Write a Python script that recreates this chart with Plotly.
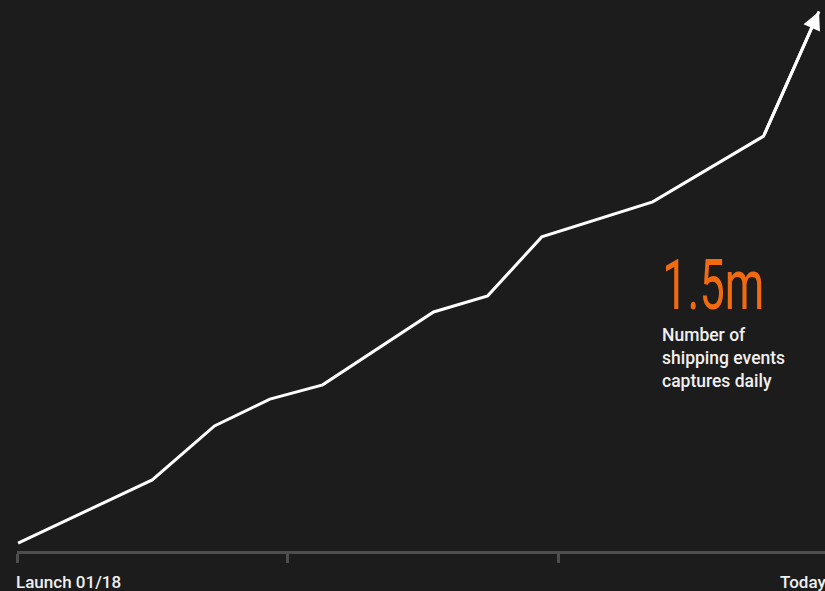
import plotly.graph_objects as go

# Data (x: axis tick units from launch to today, y: millions of shipping events captured daily)
x_vals = [0.004, 0.50, 0.73, 0.935, 1.13, 1.54, 1.74, 1.94, 2.35, 2.76, 2.965]
y_vals = [0.022, 0.199, 0.350, 0.425, 0.465, 0.669, 0.714, 0.879, 0.977, 1.161, 1.51]
tick_vals = [0, 1, 2, 3]
start_label = "Launch 01/18"
end_label = "Today"
headline = "1.5m"
caption = "Number of<br>shipping events<br>captures daily"

BG = "#1c1c1c"
AXIS = "#4d4d4d"
ORANGE = "#f26a10"

fig = go.Figure()
fig.add_trace(go.Scatter(
    x=x_vals, y=y_vals, mode="lines",
    line=dict(color="white", width=3),
    cliponaxis=False, hoverinfo="skip", showlegend=False,
))

fig.update_layout(
    width=825, height=591,
    margin=dict(l=17, r=0, t=0, b=40),
    paper_bgcolor=BG, plot_bgcolor=BG,
    xaxis=dict(range=[0, 808 / 270.5], showgrid=False, zeroline=False,
               showline=True, linecolor=AXIS, linewidth=3,
               tickvals=tick_vals, ticks="outside", ticklen=9, tickwidth=3,
               tickcolor=AXIS, showticklabels=False, fixedrange=True),
    yaxis=dict(range=[0, 1.5 * 551 / 536], visible=False, fixedrange=True),
    font=dict(family="Roboto, sans-serif", color="#f0f0f0"),
)

# arrow head at the last point, pointing along the final segment
fig.add_annotation(x=x_vals[-1], y=y_vals[-1], ax=x_vals[-2], ay=y_vals[-2],
                   xref="x", yref="y", axref="x", ayref="y", text="",
                   showarrow=True, arrowhead=2, arrowsize=1.2, arrowwidth=3,
                   arrowcolor="white", standoff=0)

fig.add_annotation(x=0, y=-0.057, xref="x", yref="paper", text=start_label,
                   showarrow=False, xanchor="left", yanchor="middle", xshift=-3,
                   font=dict(size=17, family="Roboto", color="#f0f0f0", weight=500))
fig.add_annotation(x=2.82, y=-0.057, xref="x", yref="paper", text=end_label,
                   showarrow=False, xanchor="left", yanchor="middle", xshift=-2,
                   font=dict(size=17, family="Roboto", color="#f0f0f0", weight=500))
fig.add_annotation(x=2.275, y=0.745, xref="x", yref="y", text=headline,
                   showarrow=False, xanchor="left", yanchor="middle",
                   font=dict(size=70, family="Roboto", color=ORANGE, weight=400))
fig.add_annotation(x=2.385, y=0.639, xref="x", yref="y", text=caption,
                   showarrow=False, xanchor="left", yanchor="top", align="left", xshift=-2,
                   font=dict(size=17.5, family="Roboto", color="#f0f0f0", weight=500))

post = """
document.body.style.margin = '0';
document.body.style.background = '#1c1c1c';
document.querySelectorAll('.annotation-text').forEach(function(t){
  if (t.textContent === '1.5m') {
    t.setAttribute('textLength', '102');
    t.setAttribute('lengthAdjust', 'spacingAndGlyphs');
  }
});
"""

fig.write_html("out.html", post_script=post, config={"displayModeBar": False})
